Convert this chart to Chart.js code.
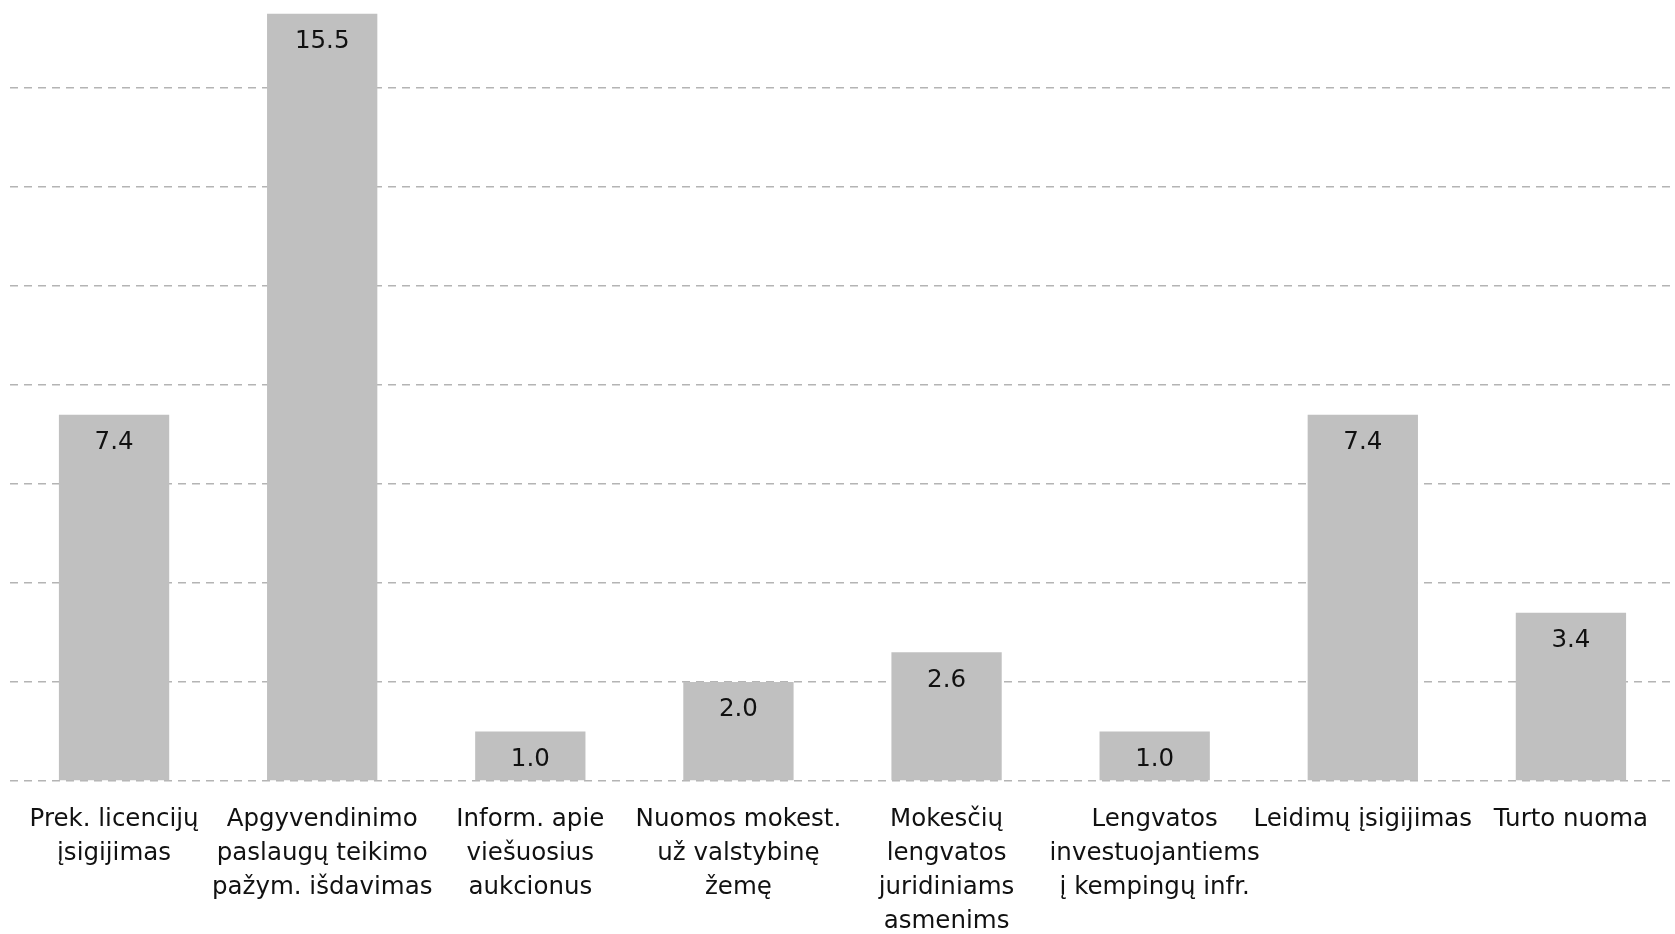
<!DOCTYPE html>
<html>
<head>
<meta charset="utf-8">
<title>Bar chart</title>
<script src="https://cdn.jsdelivr.net/npm/chart.js@4/dist/chart.umd.min.js"></script>
<style>
    html, body { margin: 0; padding: 0; background: #fff; }
    #wrap { position: relative; width: 1675px; height: 934px; }
</style>
</head>
<body>
<div id="wrap"><canvas id="barChart"></canvas></div>
<script>
// Categories (multi-line labels) and values
const categories = [
    ['Prek. licencijų', 'įsigijimas'],
    ['Apgyvendinimo', 'paslaugų teikimo', 'pažym. išdavimas'],
    ['Inform. apie', 'viešuosius', 'aukcionus'],
    ['Nuomos mokest.', 'už valstybinę', 'žemę'],
    ['Mokesčių', 'lengvatos', 'juridiniams', 'asmenims'],
    ['Lengvatos', 'investuojantiems', 'į kempingų infr.'],
    ['Leidimų įsigijimas'],
    ['Turto nuoma']
];
const values = [7.4, 15.5, 1.0, 2.0, 2.6, 1.0, 7.4, 3.4];
const gridSteps = [0, 2, 4, 6, 8, 10, 12, 14];

const FONT = 'DejaVu Sans, Verdana, sans-serif';

// Draw the value inside the top of each bar
const valueLabels = {
    id: 'valueLabels',
    afterDatasetsDraw(chart) {
        const ctx = chart.ctx;
        const meta = chart.getDatasetMeta(0);
        ctx.save();
        ctx.font = '24.5px ' + FONT;
        ctx.fillStyle = '#111';
        ctx.textAlign = 'center';
        ctx.textBaseline = 'middle';
        meta.data.forEach((bar, i) => {
            ctx.fillText(values[i].toFixed(1), bar.x, bar.y + 28);
        });
        ctx.restore();
    }
};

new Chart(document.getElementById('barChart').getContext('2d'), {
    type: 'bar',
    data: {
        labels: categories,
        datasets: [{
            data: values,
            backgroundColor: '#c0c0c0',
            borderWidth: 0,
            barPercentage: 0.53,
            categoryPercentage: 1
        }]
    },
    options: {
        responsive: true,
        maintainAspectRatio: false,
        animation: false,
        layout: { padding: { left: 10, right: 0, top: 0, bottom: -27 } },
        plugins: {
            legend: { display: false },
            title: { display: false },
            tooltip: { enabled: false }
        },
        scales: {
            x: {
                grid: { display: false, drawTicks: false },
                border: { display: false },
                ticks: {
                    autoSkip: false,
                    maxRotation: 0,
                    minRotation: 0,
                    padding: 22,
                    color: '#111',
                    font: { family: FONT, size: 24.5, lineHeight: 34 / 24.5 }
                }
            },
            y: {
                min: 0,
                max: 15.78,
                afterBuildTicks: axis => {
                    axis.ticks = gridSteps.map(v => ({ value: v }));
                },
                grid: {
                    color: '#b4b4b4',
                    lineWidth: 1.5,
                    drawTicks: false
                },
                border: { display: false, dash: [8, 6] },
                ticks: { display: false }
            }
        }
    },
    plugins: [valueLabels]
});
</script>
</body>
</html>
